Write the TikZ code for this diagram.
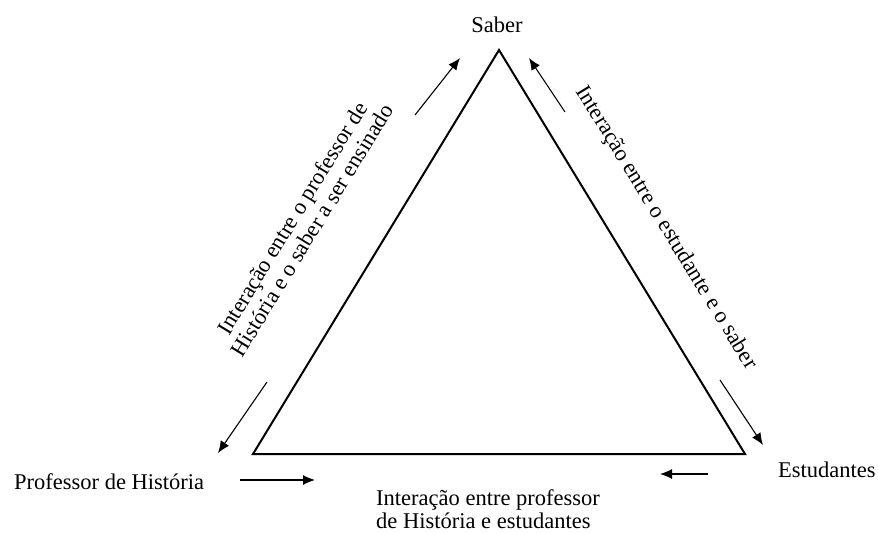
\documentclass[tikz,border=0pt]{standalone}
\usepackage{fontspec}
\setmainfont{Liberation Serif}
\usetikzlibrary{arrows.meta, positioning}
\tikzset{
	vertex/.style={inner sep=0pt, font=\fontsize{22.5}{23}\selectfont},
	sidelabel/.style={align=center, inner sep=0pt, font=\fontsize{22.5}{23}\selectfont},
	flow/.style={-{Latex[length=12pt, width=10pt]}, line width=1.1pt}
}

\begin{document}
\begin{tikzpicture}[x=1pt, y=-1pt]
		\useasboundingbox (0,0) rectangle (878,533);
		
		% Triangle
		\coordinate (top) at (499,50);
		\coordinate (left) at (253,454);
		\coordinate (right) at (745,454);
		\draw[line width=2pt, line join=miter] (top) -- (left) -- (right) -- cycle;
		
		% Vertex labels
		\node[vertex] (saber) at (497,25) {Saber};
		\node[vertex, anchor=west] (professor) at (14,482) {Professor de História};
		\node[vertex, anchor=west] (estudantes) at (778,470) {Estudantes};
		
		% Side labels
		\node[sidelabel, rotate=58.5] (profsaber) at (302,224) {Interação entre o professor de\\História e o saber a ser ensinado};
		\node[sidelabel, rotate=-58.5] (estsaber) at (666,228) {Interação entre o estudante e o saber};
		\node[sidelabel, align=left, anchor=west] (profest) at (376,509) {Interação entre professor\\de História e estudantes};
		
		% Arrow ends
		\coordinate (a1) at (415,115);
		\coordinate (b1) at (460,58);
		\coordinate (a2) at (267,382);
		\coordinate (b2) at (218,453);
		\coordinate (a3) at (565,112);
		\coordinate (b3) at (529,58);
		\coordinate (a4) at (720,380);
		\coordinate (b4) at (763,445);
		\coordinate (a5) at (240,480);
		\coordinate (b5) at (315,480);
		\coordinate (a6) at (708,474);
		\coordinate (b6) at (660,474);
		
		% Arrows
		\draw[flow] (a1) -- (b1);
		\draw[flow] (a2) -- (b2);
		\draw[flow] (a3) -- (b3);
		\draw[flow] (a4) -- (b4);
		\draw[flow] (a5) -- (b5);
		\draw[flow] (a6) -- (b6);
	\end{tikzpicture}
\end{document}
